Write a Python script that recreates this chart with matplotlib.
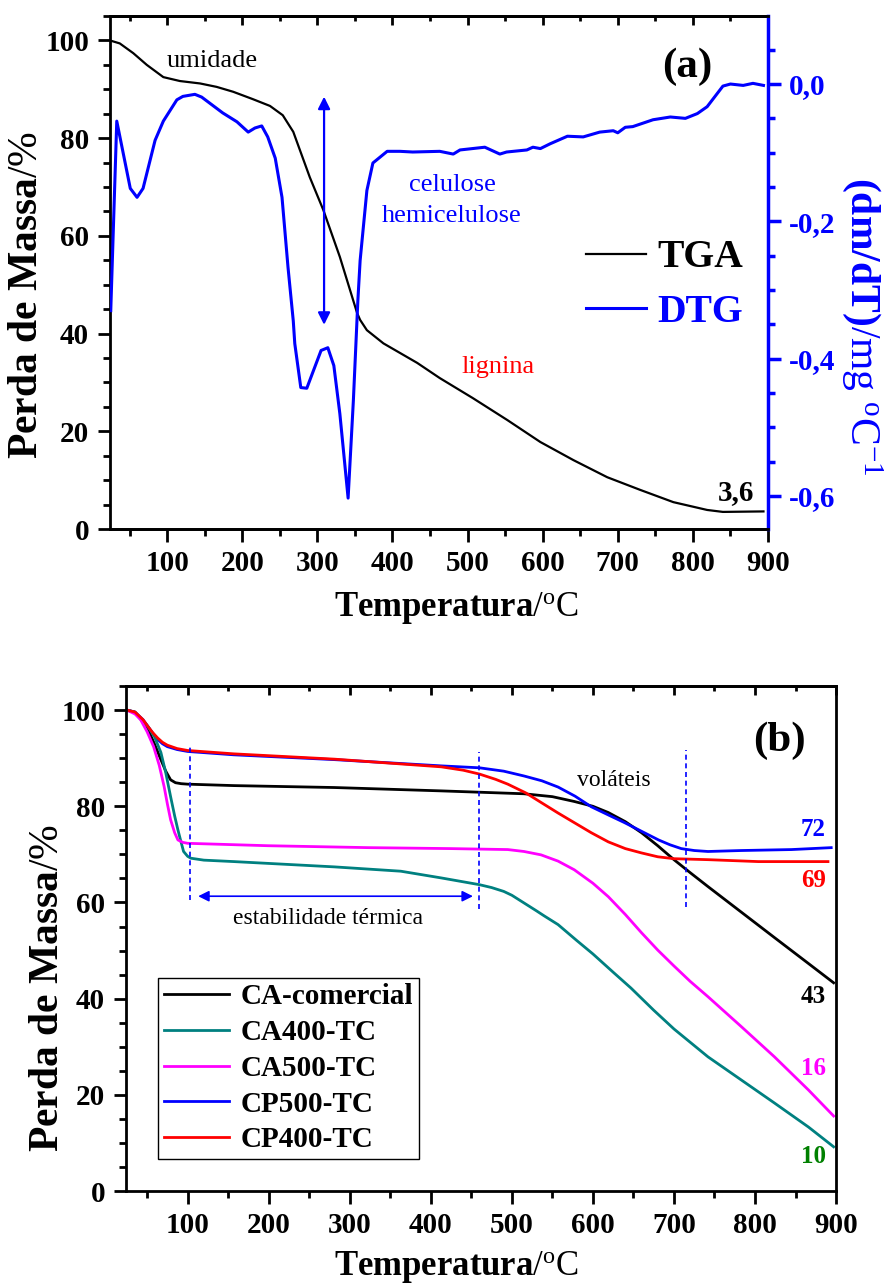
import matplotlib
matplotlib.use('Agg')
import matplotlib.pyplot as plt
from matplotlib.ticker import MultipleLocator, FuncFormatter, NullFormatter

plt.rcParams['font.family'] = 'Liberation Serif'
plt.rcParams['mathtext.fontset'] = 'custom'
plt.rcParams['mathtext.rm'] = 'Liberation Serif'
plt.rcParams['mathtext.bf'] = 'Liberation Serif:bold'
plt.rcParams['mathtext.it'] = 'Liberation Serif:italic'

# ---- (a) TGA / DTG ----
temp_tga = [24, 37, 55, 73, 95, 117, 144, 166, 188, 214, 237, 254, 268, 290, 308,
            330, 353, 357, 366, 388, 433, 463, 507, 553, 597, 641, 686, 730, 774,
            819, 840, 894]
massa_tga = [100, 99.4, 97.4, 95, 92.5, 91.7, 91.2, 90.5, 89.5, 88, 86.6, 84.7, 81.3,
             72, 65.3, 55.7, 44.2, 42.8, 40.7, 38, 34, 30.9, 26.8, 22.3, 17.8, 14.1,
             10.6, 8, 5.5, 3.9, 3.5, 3.6]

temp_dtg = [25, 33, 51, 60, 68, 84, 95, 113, 121, 137, 146, 174, 193, 208, 217, 226,
            234, 244, 253, 261, 268, 270, 278, 286, 305, 314, 322, 330, 341, 348, 354,
            357, 366, 374, 393, 410, 427, 463, 481, 490, 523, 543, 552, 579, 587, 597,
            610, 633, 654, 676, 694, 700, 710, 720, 747, 770, 790, 806, 819, 840, 850,
            867, 880, 894]
dtg = [-0.33, -0.054, -0.152, -0.165, -0.152, -0.082, -0.054, -0.023, -0.018, -0.015,
       -0.019, -0.042, -0.055, -0.070, -0.064, -0.061, -0.077, -0.108, -0.165, -0.267,
       -0.345, -0.378, -0.442, -0.443, -0.388, -0.384, -0.410, -0.48, -0.603, -0.461,
       -0.315, -0.257, -0.155, -0.115, -0.098, -0.098, -0.099, -0.098, -0.102, -0.096,
       -0.092, -0.102, -0.099, -0.096, -0.092, -0.094, -0.087, -0.076, -0.077, -0.070,
       -0.068, -0.071, -0.063, -0.062, -0.052, -0.048, -0.050, -0.043, -0.033, -0.003,
       0.0, -0.002, 0.001, -0.002]

# ---- (b) amostras ----
amostras = ['CA-comercial', 'CA400-TC', 'CA500-TC', 'CP500-TC', 'CP400-TC']
cores = ['black', '#008080', '#ff00ff', '#0000ff', '#ff0000']

t_comercial = [25, 35, 45, 51, 59, 67, 73, 79, 85, 92, 100, 157, 281, 413, 515, 550,
               577, 600, 619, 640, 660, 680, 700, 720, 742, 783, 824, 866, 897]
m_comercial = [100, 99.5, 97.5, 96, 93, 89.7, 87.3, 85.5, 84.9, 84.7, 84.6, 84.3, 83.9,
               83.2, 82.6, 82, 81, 80, 78.7, 76.8, 74.5, 71.8, 68.9, 66.2, 63.3, 58.0,
               52.7, 47.3, 43.3]

t_ca400 = [25, 35, 45, 51, 59, 67, 73, 79, 84, 88, 92, 95, 100, 104, 120, 157, 281,
           363, 413, 460, 475, 490, 500, 515, 530, 540, 557, 580, 600, 625, 647, 675,
           700, 742, 783, 824, 866, 897]
m_ca400 = [100, 99.6, 97.8, 96.6, 94.5, 91.2, 87, 82, 78, 75.1, 72.5, 70.6, 69.6, 69.2,
           68.8, 68.5, 67.4, 66.5, 65.1, 63.7, 63.1, 62.3, 61.5, 59.9, 58.3, 57.2, 55.4,
           52.1, 49.3, 45.5, 42.2, 37.6, 33.7, 27.9, 23.1, 18.3, 13.3, 9.2]

t_ca500 = [25, 35, 42, 50, 58, 65, 71, 75, 79, 84, 88, 94, 100, 199, 323, 425, 495,
           515, 536, 557, 577, 600, 619, 640, 660, 680, 700, 720, 742, 783, 824, 866, 897]
m_ca500 = [100, 99.2, 98, 95.5, 92.4, 88.5, 84.1, 80.5, 77.2, 74.5, 73, 72.5, 72.3,
           71.8, 71.4, 71.2, 71.0, 70.6, 69.9, 68.6, 66.8, 64, 61.2, 57.5, 53.7, 50.1,
           46.8, 43.6, 40.4, 34.2, 27.9, 21, 15.6]

t_cp500 = [25, 35, 45, 51, 57, 63, 69, 75, 87, 100, 157, 281, 413, 460, 490, 515, 537,
           557, 578, 598, 619, 639, 660, 681, 695, 709, 725, 742, 783, 845, 894]
m_cp500 = [100, 99.6, 98, 96.6, 95.2, 93.9, 93, 92.4, 91.8, 91.4, 90.7, 89.7, 88.4, 88.0,
           87.3, 86.3, 85.3, 84.0, 82.1, 79.9, 78.2, 76.6, 74.8, 73.0, 72, 71.2, 70.8,
           70.6, 70.8, 71.0, 71.4]

t_cp400 = [25, 35, 45, 51, 57, 63, 69, 75, 87, 100, 157, 281, 413, 440, 460, 480, 495,
           517, 536, 557, 577, 598, 619, 640, 660, 680, 700, 742, 804, 890]
m_cp400 = [100, 99.6, 98, 96.6, 95.3, 94.2, 93.3, 92.7, 92, 91.6, 90.9, 89.8, 88.2, 87.5,
           86.7, 85.6, 84.6, 82.8, 80.8, 78.6, 76.6, 74.5, 72.6, 71.2, 70.3, 69.5, 69.1,
           68.9, 68.5, 68.5]

residuos = ['72', '69', '43', '16', '10']
residuos_y = [73.9, 63.3, 39.1, 24.1, 5.9]
residuos_cor = ['#0000ff', '#ff0000', 'black', '#ff00ff', '#008000']


def virgula(v, pos):
    if abs(v) < 1e-9:
        return '0,0'
    return ('%.1f' % v).replace('.', ',')


def estilo(ax):
    ax.set_xlim(24, 900)
    ax.set_ylim(0, 105)
    ax.xaxis.set_major_locator(MultipleLocator(100))
    ax.xaxis.set_minor_locator(MultipleLocator(50))
    ax.yaxis.set_major_locator(MultipleLocator(20))
    ax.yaxis.set_minor_locator(MultipleLocator(5))
    ax.tick_params(which='major', direction='out', length=9, width=2, labelsize=21, pad=6)
    ax.tick_params(which='minor', direction='out', length=5, width=2)
    ax.tick_params(top=False, right=False)
    for s in ax.spines.values():
        s.set_linewidth(2)
    plt.setp(ax.get_xticklabels() + ax.get_yticklabels(), fontweight='bold')
    # top axis with ticks pointing inward
    topo = ax.secondary_xaxis('top')
    topo.xaxis.set_major_locator(MultipleLocator(100))
    topo.xaxis.set_minor_locator(MultipleLocator(50))
    topo.xaxis.set_major_formatter(NullFormatter())
    topo.tick_params(which='major', direction='in', length=6.5, width=2)
    topo.tick_params(which='minor', direction='in', length=3.5, width=2)
    topo.spines['top'].set_linewidth(2)


fig = plt.figure(figsize=(8.9, 12.84), dpi=100)

# ---------------- (a) ----------------
ax1 = fig.add_axes([0.1236, 0.588, 0.7393, 0.3995])
l_tga, = ax1.plot(temp_tga, massa_tga, color='black', lw=1.6)
estilo(ax1)
ax1.set_xlabel(r'$\mathbf{Temperatura}$/$^{\mathrm{o}}$C', fontsize=25, va='center')
ax1.xaxis.set_label_coords(0.526, -0.154)
ax1.set_ylabel(r'$\mathbf{Perda\ de\ Massa}$/%', fontsize=30, va='center')
ax1.yaxis.set_label_coords(-0.126, 0.456)

tw = ax1.twinx()
l_dtg, = tw.plot(temp_dtg, dtg, color='blue', lw=2.2)
tw.set_ylim(-0.648, 0.099)
tw.yaxis.set_major_locator(MultipleLocator(0.2))
tw.yaxis.set_minor_locator(MultipleLocator(0.05))
tw.yaxis.set_major_formatter(FuncFormatter(virgula))
tw.tick_params(axis='y', which='major', direction='out', length=9, width=2.5,
               labelsize=21, pad=6, colors='blue')
tw.tick_params(axis='y', which='minor', direction='out', length=5, width=2.5, colors='blue')
for s in tw.spines.values():
    s.set_linewidth(2)
tw.spines['left'].set_visible(False)
tw.spines['right'].set_color('blue')
tw.spines['right'].set_linewidth(2.5)
plt.setp(tw.get_yticklabels(), fontweight='bold')
tw.set_ylabel(r'$\mathbf{(dm/dT)}$/mg $^{\mathrm{o}}$C$^{\mathrm{-1}}$', color='blue',
              fontsize=30, rotation=270, va='center', ha='center')
tw.yaxis.set_label_coords(1.143, 0.395)

ax1.annotate('', xy=(309, 88.5), xytext=(309, 41.8),
             arrowprops=dict(arrowstyle='<|-|>', color='blue', lw=1.6,
                             mutation_scale=18, shrinkA=0, shrinkB=0))
ax1.text(160.5, 94.6, 'umidade', fontsize=19, ha='center', va='baseline')
ax1.text(480, 69.25, 'celulose', fontsize=19, color='blue', ha='center', va='baseline')
ax1.text(479, 62.9, 'hemicelulose', fontsize=19, color='blue', ha='center', va='baseline')
ax1.text(541, 31.9, 'lignina', fontsize=19, color='red', ha='center', va='baseline')
ax1.text(857.5, 5.9, '3,6', fontsize=21, fontweight='bold', ha='center', va='baseline')
ax1.text(793, 92.5, '(a)', fontsize=31, fontweight='bold', ha='center', va='baseline')

tw.legend([l_tga, l_dtg], ['TGA', 'DTG'], loc='center left',
          bbox_to_anchor=(0.724, 0.475), frameon=False, borderpad=0, borderaxespad=0,
          handlelength=1.5, handletextpad=0.3, labelspacing=0.45,
          prop={'weight': 'bold', 'size': 28.5}, labelcolor=['black', 'blue'])

# ---------------- (b) ----------------
ax2 = fig.add_axes([0.1416, 0.0724, 0.7978, 0.3933])
series_t = [t_comercial, t_ca400, t_ca500, t_cp500, t_cp400]
series_m = [m_comercial, m_ca400, m_ca500, m_cp500, m_cp400]
ordem = [0, 1, 2, 3, 4]
linhas = {}
for i in [0, 3, 1, 2, 4]:
    linhas[i], = ax2.plot(series_t[i], series_m[i], color=cores[i], lw=2, label=amostras[i])
estilo(ax2)
ax2.set_xlabel(r'$\mathbf{Temperatura}$/$^{\mathrm{o}}$C', fontsize=25, va='center')
ax2.xaxis.set_label_coords(0.466, -0.150)
ax2.set_ylabel(r'$\mathbf{Perda\ de\ Massa}$/%', fontsize=30, va='center')
ax2.yaxis.set_label_coords(-0.110, 0.403)

ax2.vlines([103, 460, 715], [60.6, 58.7, 59.1], [93, 91.2, 91.6], colors='blue',
           linestyles=(0, (3, 2.2)), lw=1.2)
ax2.annotate('', xy=(113, 61.3), xytext=(452, 61.3),
             arrowprops=dict(arrowstyle='<|-|>', color='blue', lw=1.2,
                             mutation_scale=16, shrinkA=0, shrinkB=0))
ax2.text(273, 55.6, 'estabilidade térmica', fontsize=17, ha='center', va='baseline')
ax2.text(625.6, 84.2, 'voláteis', fontsize=17, ha='center', va='baseline')
ax2.text(830.5, 91.4, '(b)', fontsize=31, fontweight='bold', ha='center', va='baseline')
for txt, yv, c in zip(residuos, residuos_y, residuos_cor):
    ax2.text(872, yv, txt, fontsize=18, fontweight='bold', color=c, ha='center', va='baseline')

leg = ax2.legend([linhas[i] for i in ordem], [amostras[i] for i in ordem],
                 loc='lower left', bbox_to_anchor=(0.045, 0.063), borderaxespad=0,
                 fancybox=False, edgecolor='black', framealpha=1, borderpad=0.2,
                 handlelength=2.25, handletextpad=0.4, labelspacing=0.3,
                 prop={'weight': 'bold', 'size': 21})
leg.get_frame().set_linewidth(1)

fig.savefig('out.png', dpi=100)
